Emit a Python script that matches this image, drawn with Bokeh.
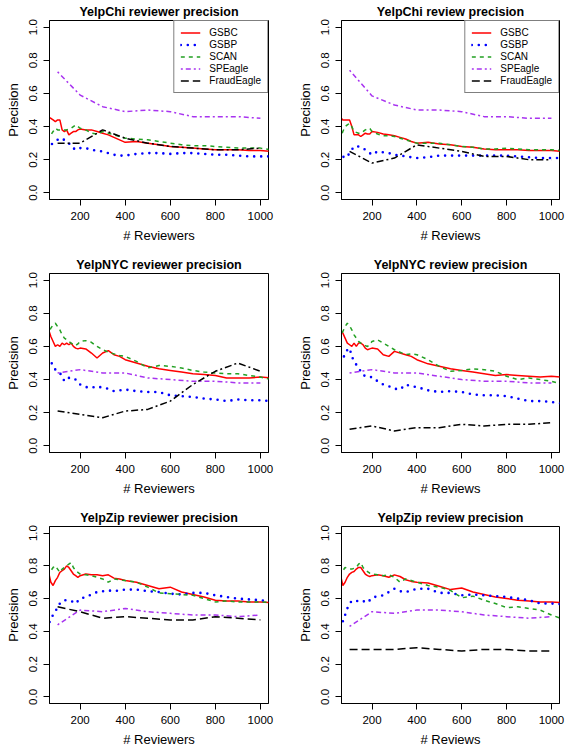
from bokeh.plotting import figure
from bokeh.models import Range1d, FixedTicker, NumeralTickFormatter, LegendItem, Legend
from bokeh.layouts import column, row
from bokeh.embed import file_html
from bokeh.resources import INLINE

# ---------------- data ----------------
X_DENSE = [50, 60, 70, 80, 90, 100, 110, 120, 130, 140, 150, 160, 170, 180, 190, 200,
           225, 250, 275, 300, 325, 350, 375, 400,
           450, 500, 550, 600, 650, 700, 750, 800, 850, 900, 950, 1000, 1050]
X_STEP = [100, 200, 300, 400, 500, 600, 700, 800, 900, 1000]

SERIES_NAMES = ["GSBC", "GSBP", "SCAN", "SPEagle", "FraudEagle"]
TITLES = ["YelpChi reviewer precision", "YelpChi review precision",
          "YelpNYC reviewer precision", "YelpNYC review precision",
          "YelpZip reviewer precision", "YelpZip review precision"]
XLABELS = ["# Reviewers", "# Reviews"]
X_TICKS = [200, 400, 600, 800, 1000]
Y_TICKS = [0.0, 0.2, 0.4, 0.6, 0.8, 1.0]

# YelpChi reviewer
CHI_RVR_GSBC = [.46, .455, .45, .44, .43, .44, .44, .38, .37, .38, .35, .36, .37, .37, .38, .385,
                .38, .38, .37, .36, .35, .335, .32, .305,
                .31, .30, .29, .28, .275, .27, .265, .26, .26, .26, .255, .255, .25]
CHI_RVR_GSBP = [.27, .28, .29, .30, .31, .32, .33, .325, .32, .315, .30, .28, .27, .26, .265, .27,
                .27, .26, .255, .25, .24, .23, .225, .225,
                .235, .24, .24, .235, .24, .24, .235, .23, .23, .225, .22, .22, .22]
CHI_RVR_SCAN = [.32, .33, .35, .37, .39, .38, .38, .38, .38, .38, .385, .39, .40, .41, .40, .39,
                .38, .36, .355, .37, .36, .35, .34, .33,
                .325, .32, .31, .30, .29, .285, .285, .28, .275, .27, .27, .27, .26]
CHI_RVR_SPEAGLE = [.73, .59, .52, .49, .50, .49, .46, .46, .46, .45]
CHI_RVR_FRAUDEAGLE = [.30, .30, .38, .33, .30, .28, .27, .26, .26, .27]

# YelpChi review
CHI_RV_GSBC = [.46, .455, .44, .44, .44, .44, .40, .35, .35, .35, .34, .35, .36, .355, .355, .37,
               .365, .355, .35, .345, .335, .325, .31, .30,
               .305, .295, .29, .28, .275, .265, .26, .26, .26, .255, .255, .255, .25]
CHI_RV_GSBP = [.24, .24, .22, .21, .22, .24, .26, .28, .28, .28, .275, .27, .26, .25, .24, .23,
               .25, .245, .24, .23, .225, .22, .215, .21,
               .215, .225, .225, .225, .225, .225, .225, .225, .22, .215, .21, .21, .21]
CHI_RV_SCAN = [.32, .33, .37, .40, .41, .42, .40, .37, .365, .36, .36, .37, .38, .385, .39, .37,
               .355, .345, .345, .34, .33, .32, .31, .30,
               .30, .30, .29, .28, .275, .265, .265, .27, .265, .26, .26, .26, .255]
CHI_RV_SPEAGLE = [.74, .585, .53, .50, .50, .49, .46, .46, .45, .45]
CHI_RV_FRAUDEAGLE = [.25, .18, .21, .29, .27, .25, .22, .22, .20, .20]

# YelpNYC reviewer
NYC_RVR_GSBC = [.71, .70, .66, .63, .60, .61, .60, .62, .61, .62, .61, .62, .60, .59, .585, .59,
                .585, .56, .53, .56, .575, .55, .54, .52,
                .50, .48, .465, .455, .445, .435, .43, .425, .41, .41, .41, .415, .41]
NYC_RVR_GSBP = [.52, .515, .51, .48, .46, .45, .44, .42, .39, .40, .41, .41, .41, .40, .385, .37,
                .355, .35, .36, .35, .345, .33, .335, .34,
                .33, .325, .325, .305, .30, .295, .285, .28, .27, .28, .275, .275, .27]
NYC_RVR_SCAN = [.66, .68, .71, .73, .74, .72, .70, .67, .65, .64, .63, .62, .61, .605, .615, .63,
                .635, .625, .60, .58, .565, .555, .545, .54,
                .51, .47, .485, .48, .47, .455, .445, .44, .435, .435, .425, .415, .40]
NYC_RVR_SPEAGLE = [.44, .46, .44, .44, .41, .40, .39, .39, .38, .38]
NYC_RVR_FRAUDEAGLE = [.21, .19, .17, .21, .22, .27, .37, .45, .50, .45]

# YelpNYC review
NYC_RV_GSBC = [.71, .70, .68, .65, .62, .61, .60, .62, .60, .62, .62, .61, .59, .58, .585, .59,
               .585, .55, .54, .57, .56, .55, .54, .52,
               .495, .48, .465, .455, .445, .435, .425, .43, .425, .42, .415, .42, .415]
NYC_RV_GSBP = [.52, .52, .53, .55, .58, .59, .54, .51, .49, .47, .45, .43, .42, .42, .415, .415,
               .39, .37, .36, .345, .34, .37, .36, .355,
               .335, .325, .33, .325, .31, .305, .305, .30, .285, .27, .27, .265, .255]
NYC_RV_SCAN = [.64, .66, .69, .72, .74, .725, .70, .67, .65, .63, .62, .61, .605, .60, .61, .63,
               .64, .62, .60, .58, .565, .55, .555, .55,
               .52, .48, .45, .455, .465, .46, .45, .42, .40, .41, .40, .39, .37]
NYC_RV_SPEAGLE = [.44, .46, .44, .44, .42, .40, .39, .39, .38, .38]
NYC_RV_FRAUDEAGLE = [.10, .12, .09, .11, .11, .13, .12, .13, .13, .14]

# YelpZip reviewer
ZIP_RVR_GSBC = [.77, .76, .70, .68, .71, .73, .76, .77, .78, .80, .79, .77, .75, .74, .73, .74,
                .75, .745, .745, .74, .745, .725, .72, .71,
                .70, .68, .66, .67, .64, .625, .61, .59, .585, .585, .58, .58, .575]
ZIP_RVR_GSBP = [.42, .44, .48, .50, .52, .55, .57, .585, .59, .59, .59, .585, .58, .57, .585, .60,
                .61, .625, .64, .645, .65, .645, .65, .655,
                .655, .645, .64, .63, .625, .635, .635, .62, .61, .60, .595, .59, .585]
ZIP_RVR_SCAN = [.74, .75, .77, .79, .80, .78, .76, .78, .79, .80, .81, .82, .79, .77, .76, .75,
                .745, .74, .73, .72, .70, .72, .715, .71,
                .70, .67, .635, .63, .625, .62, .60, .58, .585, .58, .58, .58, .575]
ZIP_RVR_SPEAGLE = [.44, .53, .52, .54, .52, .51, .50, .50, .49, .50]
ZIP_RVR_FRAUDEAGLE = [.55, .52, .48, .49, .48, .47, .47, .49, .48, .47]

# YelpZip review
ZIP_RV_GSBC = [.75, .74, .68, .70, .73, .75, .76, .765, .78, .79, .79, .77, .75, .74, .735, .74,
               .745, .74, .73, .745, .735, .715, .705, .70,
               .695, .675, .655, .665, .64, .625, .61, .60, .59, .585, .58, .58, .575]
ZIP_RV_GSBP = [.43, .44, .46, .50, .54, .57, .585, .59, .585, .585, .59, .585, .58, .575, .59, .605,
               .615, .62, .64, .66, .645, .64, .65, .66,
               .66, .635, .635, .62, .625, .62, .615, .61, .60, .59, .57, .57, .565]
ZIP_RV_SCAN = [.74, .75, .77, .79, .785, .78, .78, .785, .79, .81, .82, .79, .775, .765, .755, .75,
               .745, .74, .745, .73, .70, .72, .71, .70,
               .68, .67, .65, .605, .615, .59, .57, .545, .55, .54, .53, .50, .475]
ZIP_RV_SPEAGLE = [.43, .52, .51, .53, .53, .52, .50, .49, .48, .49]
ZIP_RV_FRAUDEAGLE = [.29, .29, .29, .30, .29, .28, .29, .29, .28, .28]

PANELS = [
    (CHI_RVR_GSBC, CHI_RVR_GSBP, CHI_RVR_SCAN, CHI_RVR_SPEAGLE, CHI_RVR_FRAUDEAGLE),
    (CHI_RV_GSBC, CHI_RV_GSBP, CHI_RV_SCAN, CHI_RV_SPEAGLE, CHI_RV_FRAUDEAGLE),
    (NYC_RVR_GSBC, NYC_RVR_GSBP, NYC_RVR_SCAN, NYC_RVR_SPEAGLE, NYC_RVR_FRAUDEAGLE),
    (NYC_RV_GSBC, NYC_RV_GSBP, NYC_RV_SCAN, NYC_RV_SPEAGLE, NYC_RV_FRAUDEAGLE),
    (ZIP_RVR_GSBC, ZIP_RVR_GSBP, ZIP_RVR_SCAN, ZIP_RVR_SPEAGLE, ZIP_RVR_FRAUDEAGLE),
    (ZIP_RV_GSBC, ZIP_RV_GSBP, ZIP_RV_SCAN, ZIP_RV_SPEAGLE, ZIP_RV_FRAUDEAGLE),
]

# ---------------- styles ----------------
FONT = "Liberation Sans"
STYLES = [
    dict(line_color="#FF0000", line_width=1.5, line_dash="solid"),
    dict(line_color="#0000FF", line_width=2.6, line_dash="0 7", line_cap="round"),
    dict(line_color="#22A022", line_width=1.5, line_dash="4 4"),
    dict(line_color="#A833F0", line_width=1.5, line_dash="2 3 5 3"),
    dict(line_color="#000000", line_width=1.5, line_dash="8 4"),
]
# the black FraudEagle curve looks dash-dotted in the Chi / NYC panels
FRAUD_DASH_PANEL = ["7 3 2 3", "7 3 2 3", "7 3 2 3", "7 3 2 3", "8 4", "8 4"]

ROW_HEIGHTS = [253, 253, 243]
ROW_BOTTOM = [54, 54, 44]
# off-frame anchor used only for drawing the legend keys
KEY_X = [-400, -300]
KEY_Y = [0.5, 0.5]


def make_panel(idx):
    left = idx % 2 == 0
    r = idx // 2
    p = figure(width=284 if left else 282, height=ROW_HEIGHTS[r],
               output_backend="svg", toolbar_location=None,
               x_range=Range1d(64, 1036), y_range=Range1d(-0.04, 1.04),
               min_border_left=49 if left else 57, min_border_right=16 if left else 7,
               min_border_top=19, min_border_bottom=ROW_BOTTOM[r], title=TITLES[idx])
    p.title.text_font = FONT
    p.title.text_font_size = "12.5px"
    p.title.text_font_style = "bold"
    p.title.align = "center"
    p.title.standoff = 4
    p.title.text_color = "#000000"

    p.outline_line_color = "#000000"
    p.outline_line_width = 1
    p.outline_line_alpha = 1
    p.xgrid.visible = False
    p.ygrid.visible = False
    p.background_fill_color = "#FFFFFF"
    p.border_fill_color = "#FFFFFF"

    p.xaxis.ticker = FixedTicker(ticks=X_TICKS)
    p.yaxis.ticker = FixedTicker(ticks=Y_TICKS)
    p.yaxis.formatter = NumeralTickFormatter(format="0.0")
    p.yaxis.major_label_orientation = "vertical"
    p.xaxis.axis_label = XLABELS[idx % 2]
    p.yaxis.axis_label = "Precision"
    for ax in (p.xaxis[0], p.yaxis[0]):
        ax.axis_line_color = "#000000"
        ax.major_tick_line_color = "#000000"
        ax.minor_tick_line_color = None
        ax.major_tick_in = 0
        ax.major_tick_out = 6
        ax.major_label_text_font = FONT
        ax.major_label_text_font_size = "11.5px"
        ax.major_label_text_color = "#000000"
        ax.axis_label_text_font = FONT
        ax.axis_label_text_font_size = "13px"
        ax.axis_label_text_font_style = "normal"
        ax.axis_label_text_color = "#000000"
    p.xaxis.major_label_standoff = 6
    p.xaxis.axis_label_standoff = 5
    p.yaxis.major_label_standoff = 6
    p.yaxis.axis_label_standoff = 6

    data = PANELS[idx]
    for k, (vals, st) in enumerate(zip(data, STYLES)):
        xs = X_DENSE if k < 3 else X_STEP
        kw = dict(st)
        if k == 4:
            kw["line_dash"] = FRAUD_DASH_PANEL[idx]
        p.line(xs, vals, **kw)

    if idx < 2:
        keys = [p.line(KEY_X, KEY_Y, **st) for st in STYLES]
        items = [LegendItem(label=SERIES_NAMES[k], renderers=[keys[k]]) for k in range(5)]
        lg = Legend(items=items, location="top_right")
        lg.margin = 0
        lg.padding = 6
        lg.spacing = 1
        lg.border_line_color = "#000000"
        lg.border_line_width = 1
        lg.background_fill_color = "#FFFFFF"
        lg.background_fill_alpha = 1
        lg.glyph_width = 20
        lg.glyph_height = 11
        lg.label_height = 11
        lg.label_standoff = 9
        lg.label_text_font = FONT
        lg.label_text_font_size = "10px"
        lg.label_text_color = "#000000"
        p.add_layout(lg, "center")
    return p


figs = [make_panel(i) for i in range(6)]
layout = column(row(figs[0], figs[1]), row(figs[2], figs[3]), row(figs[4], figs[5]))

open("out.html", "w").write(file_html(layout, INLINE))
